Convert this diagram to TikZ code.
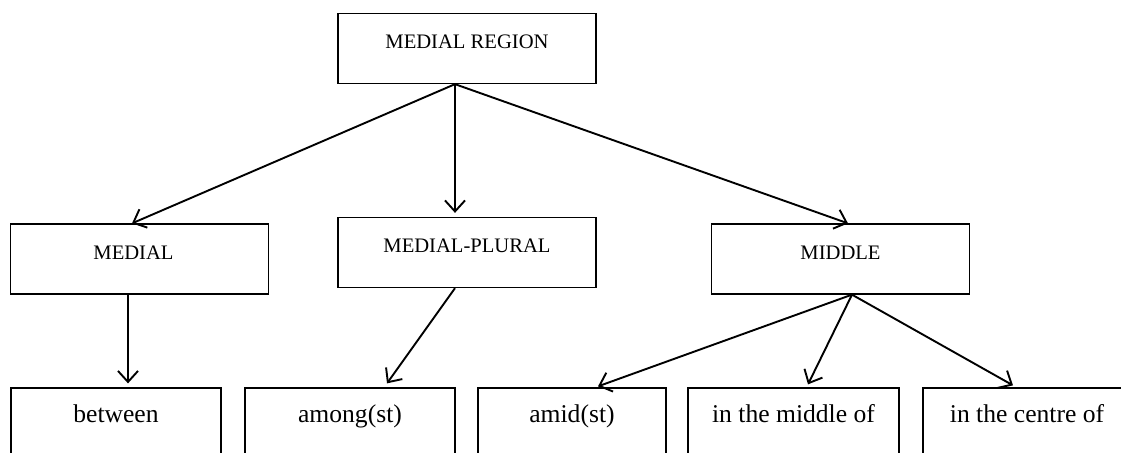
\documentclass[tikz,border=0pt]{standalone}
\usepackage{fontspec}
\setmainfont{Liberation Serif}
\usetikzlibrary{arrows.meta}
\begin{document}
\begin{tikzpicture}[x=0.5pt,y=-0.5pt,
  catbox/.style={draw,line width=0.65pt,inner sep=0pt,minimum width=128.75pt,text height=17.5pt,text depth=17.5pt,font=\fontsize{10.3}{12}\selectfont},
  wordbox/.style={draw,line width=0.65pt,inner sep=0pt,text height=17pt,text depth=18pt,font=\fontsize{12.8}{15}\selectfont},
  link/.style={line width=0.95pt,-{Straight Barb[length=5.5pt,width=10pt]}}]
\useasboundingbox (0,0) rectangle (1121,452);
\clip (0,0) rectangle (1121,452);
% top
\node[catbox,minimum width=129pt] (region) at (467,48.5) {MEDIAL REGION};
% second row
\node[catbox] (medial) at (139.5,259) {\hspace*{-6pt}MEDIAL};
\node[catbox,minimum width=129pt] (plural) at (467,252.5) {MEDIAL-PLURAL};
\node[catbox] (middle) at (840.5,259) {MIDDLE};
% bottom row
\node[wordbox,minimum width=105pt] (between) at (116,423) {between};
\node[wordbox,minimum width=105pt] (among) at (350,423) {among(st)};
\node[wordbox,minimum width=94pt] (amid) at (572,423) {amid(st)};
\node[wordbox,minimum width=105.5pt] (inmiddle) at (793.5,423) {in the middle of};
\node[wordbox,minimum width=104pt] (incentre) at (1027,423) {in the centre of};
% arrows
\draw[link] ([xshift=-6pt]region.south) -- ([xshift=-3.75pt]medial.north);
\draw[link] ([xshift=-6pt]region.south) -- ([xshift=-6pt,yshift=2pt]plural.north);
\draw[link] ([xshift=-6pt]region.south) -- ([xshift=3.75pt]middle.north);
\draw[link] ([xshift=-5.75pt]medial.south) -- ([xshift=6pt,yshift=2pt]between.north);
\draw[link] ([xshift=-6pt]plural.south) -- ([xshift=18.5pt,yshift=2pt]among.north);
\draw[link] ([xshift=5.75pt]middle.south) -- ([xshift=13pt,yshift=0.5pt]amid.north);
\draw[link] ([xshift=5.75pt]middle.south) -- ([xshift=7.25pt,yshift=1.5pt]inmiddle.north);
\draw[link] ([xshift=5.75pt]middle.south) -- ([xshift=-7pt,yshift=1pt]incentre.north);
\end{tikzpicture}
\end{document}
